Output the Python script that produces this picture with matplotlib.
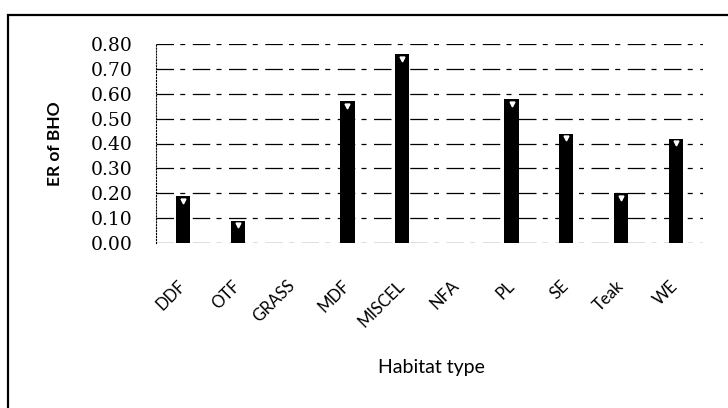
import matplotlib
matplotlib.use("Agg")
import matplotlib.pyplot as plt
import matplotlib.transforms as mtransforms
from matplotlib.patches import Rectangle
import numpy as np

# Encounter rate of BHO per habitat type
habitats = ["DDF", "OTF", "GRASS", "MDF", "MISCEL", "NFA", "PL", "SE", "Teak", "WE"]
er_bho = [0.19, 0.09, 0.00, 0.57, 0.76, 0.00, 0.58, 0.44, 0.20, 0.42]
yticks = [0.00, 0.10, 0.20, 0.30, 0.40, 0.50, 0.60, 0.70, 0.80]

W, H = 728, 408
fig = plt.figure(figsize=(W / 100, H / 100), dpi=100)
fig.patch.set_facecolor("white")

# chart frame (right and bottom edges fall outside the image)
fig.patches.append(Rectangle((8 / W, -0.2), 1.2, 1.2 - 15 / H,
                             transform=fig.transFigure, fill=False,
                             edgecolor="black", linewidth=1.6))

ax = fig.add_axes([156 / W, 1 - 243 / H, (703 - 156) / W, (243 - 44) / H])
x = np.arange(len(habitats))
ax.bar(x, er_bho, width=0.26, color="black", zorder=3)

# small white markers just inside the top of each bar
vals = np.array(er_bho)
nz = vals > 0
offset = mtransforms.ScaledTranslation(0, -3.5 / 72, fig.dpi_scale_trans)
ax.plot(x[nz], vals[nz], linestyle="none", marker="v", markersize=3.5,
        color="white", transform=ax.transData + offset, zorder=4)

ax.set_xlim(-0.5, len(habitats) - 0.5)
ax.set_ylim(0, 0.8)
ax.set_yticks(yticks)
ax.set_yticklabels([f"{v:.2f}" for v in yticks], family="DejaVu Serif",
                   fontsize=13.5)
ax.set_xticks(x)
ax.set_xticklabels(habitats, rotation=45, ha="right", va="center",
                   rotation_mode="anchor", family="Lato", fontsize=12)
ax.tick_params(axis="x", length=0, pad=29)
ax.tick_params(axis="y", length=0, pad=17)

ax.yaxis.grid(True, color="black", linewidth=0.9,
              linestyle=(0, (14, 5, 4, 6)), zorder=0)
ax.set_axisbelow(True)
for s in ["top", "right", "bottom"]:
    ax.spines[s].set_visible(False)
ax.spines["left"].set_linestyle(":")
ax.spines["left"].set_linewidth(0.8)

ax.set_ylabel("ER of BHO", family="Lato", fontweight="bold", fontsize=12.5,
              labelpad=20)
fig.text(431 / W, 1 - 368 / H, "Habitat type", family="Lato", fontsize=14,
         ha="center", va="center")

fig.savefig("out.png", dpi=100)
